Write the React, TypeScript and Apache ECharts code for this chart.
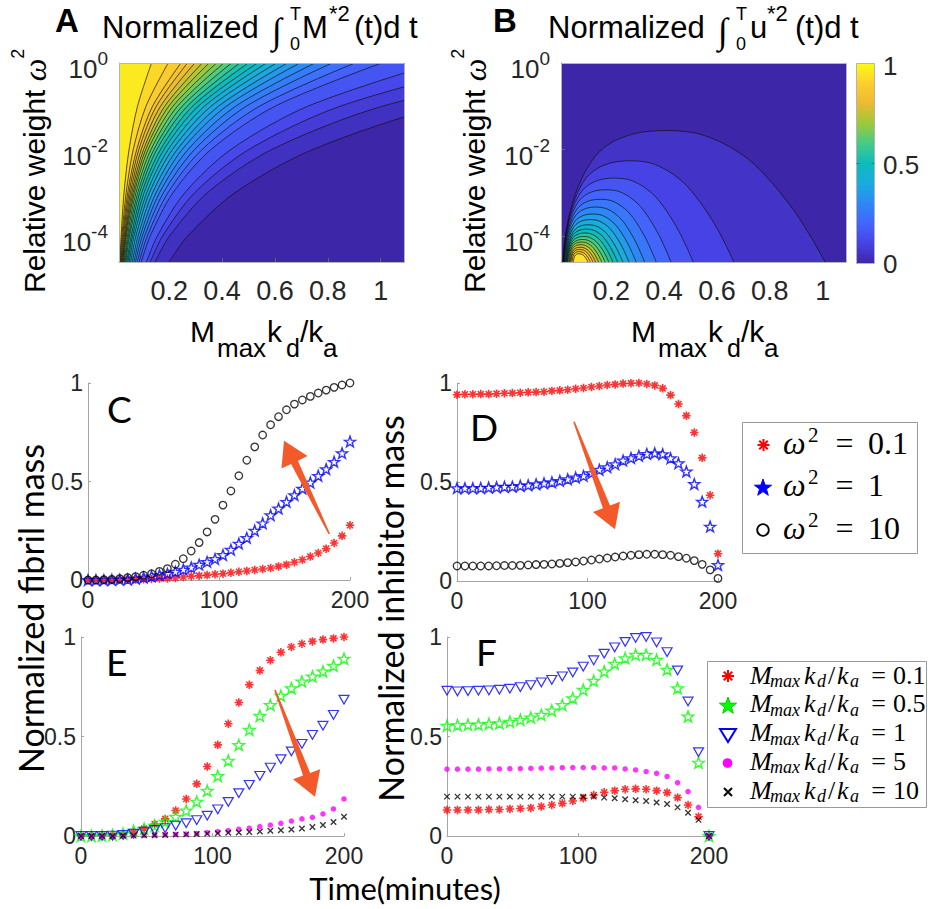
import React, { useEffect, useRef } from 'react';
import * as echarts from 'echarts';

// ---------------- Panel A: contour lines (x = Mmax kd/ka) read at rows of log10(omega^2) ----------------
const A_ROWS_LOGW = [-4.6, -4, -3, -2, -1, 0];
const A_CONTOUR_X = [
  [0.199, 0.270, 0.448, 0.743, 1.234, 2.05],
  [0.146, 0.201, 0.344, 0.588, 1.006, 1.72],
  [0.128, 0.175, 0.296, 0.501, 0.846, 1.43],
  [0.114, 0.155, 0.259, 0.433, 0.724, 1.21],
  [0.094, 0.128, 0.214, 0.358, 0.600, 1.003],
  [0.086, 0.117, 0.195, 0.324, 0.541, 0.902],
  [0.079, 0.107, 0.178, 0.296, 0.491, 0.816],
  [0.072, 0.098, 0.163, 0.271, 0.451, 0.751],
  [0.066, 0.090, 0.150, 0.249, 0.416, 0.694],
  [0.060, 0.082, 0.137, 0.230, 0.386, 0.647],
  [0.054, 0.074, 0.125, 0.212, 0.358, 0.606],
  [0.049, 0.067, 0.115, 0.196, 0.333, 0.568],
  [0.044, 0.061, 0.105, 0.180, 0.310, 0.534],
  [0.040, 0.056, 0.096, 0.167, 0.288, 0.499],
  [0.036, 0.050, 0.088, 0.153, 0.268, 0.467],
  [0.033, 0.046, 0.081, 0.142, 0.249, 0.436],
  [0.030, 0.042, 0.074, 0.131, 0.231, 0.407],
  [0.027, 0.038, 0.068, 0.120, 0.214, 0.379],
  [0.025, 0.035, 0.063, 0.111, 0.198, 0.351],
  [0.023, 0.033, 0.058, 0.103, 0.183, 0.325],
  [0.021, 0.030, 0.053, 0.094, 0.167, 0.297],
  [0.019, 0.027, 0.048, 0.085, 0.151, 0.269],
  [0.017, 0.024, 0.043, 0.077, 0.137, 0.244],
  [0.015, 0.021, 0.037, 0.064, 0.112, 0.196],
  [0.013, 0.018, 0.029, 0.048, 0.080, 0.133],
];

// ---------------- Panel B: nested arch-shaped contours ----------------
const B_ARCH_U = [0, 0.008, 0.027, 0.052, 0.09, 0.14, 0.204, 0.292, 0.393, 0.507, 0.608, 0.709, 0.797, 0.886, 0.95, 1];
const B_ARCH_V = [0, 0.176, 0.378, 0.541, 0.704, 0.84, 0.928, 0.984, 1, 0.98, 0.906, 0.779, 0.603, 0.378, 0.176, 0];
const B_ARCH_XL = [0.017, 0.018, 0.019, 0.020, 0.021, 0.022, 0.024, 0.026, 0.028, 0.030, 0.032, 0.034, 0.036, 0.039, 0.042, 0.045, 0.048, 0.052, 0.057];
const B_ARCH_XR = [1.009, 0.664, 0.510, 0.426, 0.370, 0.326, 0.294, 0.267, 0.244, 0.224, 0.206, 0.191, 0.177, 0.164, 0.152, 0.141, 0.131, 0.121, 0.112];
const B_ARCH_PEAK = [-1.56, -2.26, -2.66, -2.93, -3.15, -3.33, -3.49, -3.62, -3.74, -3.84, -3.93, -4.01, -4.08, -4.14, -4.20, -4.26, -4.31, -4.36, -4.41];

const A_X_TICKS = [0.2, 0.4, 0.6, 0.8, 1];
const A_Y_TICKS = [-4, -2, 0];
const COLORBAR_LABELS = ['1', '0.5', '0'];

// ---------------- Panels C-F: time courses ----------------
const T_CD = [0, 6.06, 12.12, 18.18, 24.24, 30.3, 36.36, 42.42, 48.48, 54.55, 60.61, 66.67, 72.73, 78.79, 84.85, 90.91, 96.97,
  103.03, 109.09, 115.15, 121.21, 127.27, 133.33, 139.39, 145.45, 151.52, 157.58, 163.64, 169.7, 175.76, 181.82, 187.88, 193.94, 200];
const T_EF = [0, 8, 16, 24, 32, 40, 48, 56, 64, 72, 80, 88, 96, 104, 112, 120, 128, 136, 144, 152, 160, 168, 176, 184, 192, 200];

const C_RED = [0, 0, 0, 0, 0.001, 0.002, 0.003, 0.004, 0.005, 0.007, 0.008, 0.01, 0.015, 0.019, 0.022, 0.025, 0.029, 0.032, 0.037,
  0.042, 0.046, 0.051, 0.056, 0.061, 0.069, 0.078, 0.09, 0.103, 0.119, 0.137, 0.159, 0.188, 0.224, 0.278];
const C_BLUE = [0, 0, 0, 0.001, 0.002, 0.003, 0.007, 0.012, 0.019, 0.025, 0.032, 0.042, 0.053, 0.064, 0.078, 0.092, 0.107, 0.127,
  0.154, 0.185, 0.214, 0.251, 0.288, 0.329, 0.363, 0.397, 0.431, 0.464, 0.495, 0.529, 0.563, 0.6, 0.644, 0.703];
const C_BLACK = [0, 0, 0.002, 0.003, 0.007, 0.012, 0.017, 0.024, 0.032, 0.044, 0.058, 0.08, 0.108, 0.147, 0.19, 0.244, 0.308, 0.38,
  0.452, 0.529, 0.608, 0.676, 0.736, 0.788, 0.829, 0.864, 0.893, 0.914, 0.932, 0.949, 0.964, 0.978, 0.99, 1.0];

const D_RED = [0.941, 0.943, 0.943, 0.944, 0.944, 0.946, 0.948, 0.949, 0.951, 0.953, 0.954, 0.956, 0.96, 0.963, 0.966, 0.971, 0.975,
  0.98, 0.985, 0.99, 0.993, 0.997, 0.999, 1.0, 0.995, 0.988, 0.973, 0.939, 0.894, 0.835, 0.75, 0.622, 0.433, 0.138];
const D_BLUE = [0.469, 0.469, 0.469, 0.47, 0.472, 0.474, 0.476, 0.477, 0.481, 0.484, 0.489, 0.494, 0.499, 0.506, 0.514, 0.523, 0.531,
  0.545, 0.562, 0.575, 0.59, 0.609, 0.621, 0.632, 0.642, 0.646, 0.641, 0.62, 0.595, 0.553, 0.49, 0.401, 0.275, 0.081];
const D_BLACK = [0.076, 0.076, 0.076, 0.076, 0.076, 0.077, 0.078, 0.078, 0.079, 0.081, 0.083, 0.084, 0.086, 0.089, 0.093, 0.096, 0.101,
  0.106, 0.111, 0.116, 0.121, 0.126, 0.13, 0.133, 0.135, 0.135, 0.133, 0.13, 0.123, 0.115, 0.103, 0.084, 0.056, 0.013];

const E_RED = [0, 0, 0.001, 0.002, 0.005, 0.017, 0.037, 0.06, 0.086, 0.128, 0.186, 0.262, 0.349, 0.458, 0.564, 0.671, 0.76, 0.832,
  0.883, 0.923, 0.95, 0.966, 0.978, 0.987, 0.993, 1.0];
const E_GREEN = [0, 0, 0.002, 0.005, 0.012, 0.027, 0.037, 0.052, 0.072, 0.097, 0.128, 0.173, 0.228, 0.302, 0.379, 0.458, 0.534, 0.604,
  0.659, 0.705, 0.743, 0.777, 0.802, 0.827, 0.856, 0.891];
const E_BLUE = [0, 0, 0, 0.002, 0.005, 0.012, 0.022, 0.03, 0.04, 0.052, 0.064, 0.08, 0.102, 0.134, 0.171, 0.215, 0.257, 0.302, 0.344,
  0.386, 0.425, 0.463, 0.508, 0.554, 0.609, 0.685];
const E_MAGENTA = [0, 0, 0, 0.001, 0.001, 0.002, 0.003, 0.004, 0.006, 0.008, 0.01, 0.013, 0.017, 0.022, 0.027, 0.034, 0.039, 0.047,
  0.055, 0.064, 0.075, 0.086, 0.094, 0.111, 0.136, 0.186];
const E_BLACK = [0, 0, 0, 0, 0.001, 0.002, 0.003, 0.004, 0.005, 0.007, 0.008, 0.01, 0.012, 0.014, 0.016, 0.018, 0.02, 0.023, 0.026,
  0.029, 0.033, 0.038, 0.045, 0.055, 0.07, 0.097];

const F_RED = [0.131, 0.131, 0.131, 0.131, 0.133, 0.133, 0.136, 0.138, 0.141, 0.148, 0.156, 0.164, 0.176, 0.19, 0.206, 0.22, 0.228,
  0.235, 0.237, 0.235, 0.228, 0.218, 0.193, 0.156, 0.097, 0];
const F_GREEN = [0.554, 0.557, 0.559, 0.56, 0.564, 0.567, 0.574, 0.584, 0.596, 0.609, 0.631, 0.658, 0.693, 0.735, 0.78, 0.827, 0.866,
  0.894, 0.911, 0.911, 0.886, 0.836, 0.743, 0.601, 0.369, 0];
const F_BLUE = [0.73, 0.727, 0.728, 0.73, 0.732, 0.735, 0.74, 0.748, 0.758, 0.772, 0.785, 0.802, 0.822, 0.851, 0.883, 0.916, 0.948,
  0.975, 0.995, 1.0, 0.973, 0.924, 0.832, 0.676, 0.421, 0];
const F_MAGENTA = [0.336, 0.336, 0.336, 0.336, 0.337, 0.337, 0.338, 0.339, 0.34, 0.341, 0.342, 0.343, 0.344, 0.344, 0.344, 0.342,
  0.342, 0.337, 0.332, 0.324, 0.315, 0.299, 0.268, 0.223, 0.144, 0];
const F_BLACK = [0.198, 0.198, 0.198, 0.198, 0.198, 0.198, 0.198, 0.198, 0.198, 0.198, 0.198, 0.198, 0.198, 0.197, 0.198, 0.193,
  0.19, 0.185, 0.18, 0.176, 0.168, 0.161, 0.144, 0.117, 0.081, 0];

const D_LEGEND_VALUES = ['0.1', '1', '10'];
const F_LEGEND_VALUES = ['0.1', '0.5', '1', '5', '10'];

// ---------------- styling ----------------
const FONT = '"Liberation Sans", Arial, Helvetica, sans-serif';
const SERIF = '"Liberation Serif", "Times New Roman", serif';
const HUM = 'Lato, "Open Sans", sans-serif';
const INK = '#262626';
const AXIS_GREY = '#a6a6a6';
const ARROW = '#F4592A';
const LOGW_MIN = -4.6;
const A_XMIN = 0.01;
const A_XMAX = 1.088;

// parula-like colormap, nodes at 0, 0.1, ..., 1
const PARULA_NODES = [[62, 38, 168], [71, 66, 230], [68, 101, 253], [45, 136, 246], [26, 172, 221], [13, 187, 188],
  [68, 203, 134], [156, 201, 58], [235, 186, 50], [252, 206, 46], [249, 251, 21]];
function parula(t: number) {
  const n = PARULA_NODES.length - 1;
  const s = Math.max(0, Math.min(1, t)) * n;
  const i = Math.min(n - 1, Math.floor(s));
  const f = s - i;
  const a = PARULA_NODES[i], b = PARULA_NODES[i + 1];
  const c = [0, 1, 2].map((j) => Math.round(a[j] + (b[j] - a[j]) * f));
  return `rgb(${c[0]},${c[1]},${c[2]})`;
}

function starPoints(cx: number, cy: number, R: number, r: number) {
  const p: number[][] = [];
  for (let i = 0; i < 10; i++) {
    const a = -Math.PI / 2 + (i * Math.PI) / 5;
    const rr = i % 2 === 0 ? R : r;
    p.push([cx + rr * Math.cos(a), cy + rr * Math.sin(a)]);
  }
  return p;
}
const STAR = 'path://' + starPoints(10, 10, 10, 4).map((p, i) => (i ? 'L' : 'M') + p[0].toFixed(2) + ' ' + p[1].toFixed(2)).join('') + 'Z';
const ASTER = 'path://M5 0L5 10M0 5L10 5M1.46 1.46L8.54 8.54M1.46 8.54L8.54 1.46';
const TRI = 'path://M0 0L10 0L5 8.66Z';
const XMK = 'path://M0 0L10 10M0 10L10 0';

type TOpt = { family?: string; italic?: boolean; bold?: boolean; color?: string; align?: string; rot?: number; lh?: number };
function T(text: string, x: number, y: number, size: number, o: TOpt = {}) {
  const style: any = {
    text, fontSize: size, fontFamily: o.family || FONT, fontStyle: o.italic ? 'italic' : 'normal',
    fontWeight: o.bold ? 'bold' : 'normal', fill: o.color || '#000', align: o.align || 'left', verticalAlign: 'middle',
  };
  if (o.lh) style.lineHeight = o.lh;
  return { type: 'text', x, y, rotation: o.rot || 0, z: 100, silent: true, style };
}

function arrow(tx: number, ty: number, hx: number, hy: number) {
  const dx = hx - tx, dy = hy - ty, L = Math.hypot(dx, dy);
  const ux = dx / L, uy = dy / L, nx = -uy, ny = ux;
  const headLen = 24, headHalf = 14.5, shaftHalf = 3.8, tailHalf = 0.8;
  const bx = hx - ux * headLen, by = hy - uy * headLen;
  const pts = [
    [tx + nx * tailHalf, ty + ny * tailHalf], [bx + nx * shaftHalf, by + ny * shaftHalf], [bx + nx * headHalf, by + ny * headHalf],
    [hx, hy], [bx - nx * headHalf, by - ny * headHalf], [bx - nx * shaftHalf, by - ny * shaftHalf], [tx - nx * tailHalf, ty - ny * tailHalf],
  ];
  return { type: 'polygon', z: 100, silent: true, shape: { points: pts }, style: { fill: ARROW } };
}

function gLine(x1: number, y1: number, x2: number, y2: number, color: string, lw: number) {
  return { type: 'line', z: 101, silent: true, shape: { x1, y1, x2, y2 }, style: { stroke: color, lineWidth: lw } };
}
function gAsterisk(cx: number, cy: number, r: number, color: string, lw: number) {
  const d = r * 0.707;
  return [gLine(cx - r, cy, cx + r, cy, color, lw), gLine(cx, cy - r, cx, cy + r, color, lw),
    gLine(cx - d, cy - d, cx + d, cy + d, color, lw), gLine(cx - d, cy + d, cx + d, cy - d, color, lw)];
}
function gStar(cx: number, cy: number, R: number, fill: string, stroke: string, lw: number) {
  return { type: 'polygon', z: 101, silent: true, shape: { points: starPoints(cx, cy, R, R * 0.4) }, style: { fill, stroke, lineWidth: lw } };
}

function buildOption() {
  const series: any[] = [];
  const graphics: any[] = [];

  // ---- Panel A fills & contour lines ----
  const nA = A_CONTOUR_X.length;
  A_CONTOUR_X.forEach((xs, k) => {
    const col = parula((k + 1) / (nA + 1));
    series.push({
      type: 'line', xAxisIndex: 0, yAxisIndex: 0, silent: true, symbol: 'none', showSymbol: false,
      data: [[-0.2, LOGW_MIN], [xs[0] + 0.0015, LOGW_MIN]],
      lineStyle: { width: 0, opacity: 0 }, areaStyle: { origin: 'end', color: col, opacity: 1 },
      emphasis: { disabled: true },
    });
    series.push({
      type: 'line', xAxisIndex: 0, yAxisIndex: 0, silent: true, symbol: 'none', showSymbol: false,
      smooth: 0.3,
      data: xs.map((x, j) => [x, A_ROWS_LOGW[j]]),
      lineStyle: { color: '#111', width: 0.7 }, areaStyle: { origin: 'end', color: col, opacity: 1 },
      emphasis: { disabled: true },
    });
  });

  // ---- Panel B arches ----
  const nB = B_ARCH_XL.length;
  B_ARCH_XL.forEach((xl, k) => {
    const xr = B_ARCH_XR[k], pk = B_ARCH_PEAK[k];
    series.push({
      type: 'line', xAxisIndex: 1, yAxisIndex: 1, silent: true, symbol: 'none', showSymbol: false,
      smooth: 0.3,
      data: B_ARCH_U.map((u, j) => [xl + u * (xr - xl), LOGW_MIN + B_ARCH_V[j] * (pk - LOGW_MIN)]),
      lineStyle: { color: '#111', width: 0.7 }, areaStyle: { origin: 'start', color: parula((k + 1) / (nB + 1)), opacity: 1 },
      emphasis: { disabled: true },
    });
  });

  // ---- Panels C-F scatter ----
  const mk = (gi: number, times: number[], vals: number[], kind: string) => {
    const base: any = {
      type: 'scatter', xAxisIndex: gi, yAxisIndex: gi, silent: true, clip: false,
      data: times.map((t, i) => [t, vals[i]]), emphasis: { disabled: true },
    };
    if (kind === 'redAst') Object.assign(base, { symbol: ASTER, symbolSize: 8.5, itemStyle: { color: '#ff0000', borderColor: '#ff0000', borderWidth: 1.6 } });
    if (kind === 'blueStar') Object.assign(base, { symbol: STAR, symbolSize: [11, 10.5], itemStyle: { color: 'rgba(0,0,0,0)', borderColor: '#0000ff', borderWidth: 1.4 } });
    if (kind === 'greenStar') Object.assign(base, { symbol: STAR, symbolSize: [11.5, 11], itemStyle: { color: 'rgba(0,0,0,0)', borderColor: '#00ff00', borderWidth: 1.4 } });
    if (kind === 'blackCirc') Object.assign(base, { symbol: 'circle', symbolSize: 7.5, itemStyle: { color: 'rgba(0,0,0,0)', borderColor: '#000', borderWidth: 1.3 } });
    if (kind === 'blueTri') Object.assign(base, { symbol: TRI, symbolSize: [10, 8.7], itemStyle: { color: 'rgba(0,0,0,0)', borderColor: '#0000ff', borderWidth: 1.2 } });
    if (kind === 'magDot') Object.assign(base, { symbol: 'circle', symbolSize: 5.5, itemStyle: { color: '#ff00ff' } });
    if (kind === 'blackX') Object.assign(base, { symbol: XMK, symbolSize: 5.5, itemStyle: { color: '#000', borderColor: '#000', borderWidth: 1.3 } });
    return base;
  };
  series.push(mk(2, T_CD, C_RED, 'redAst'), mk(2, T_CD, C_BLUE, 'blueStar'), mk(2, T_CD, C_BLACK, 'blackCirc'));
  series.push(mk(3, T_CD, D_RED, 'redAst'), mk(3, T_CD, D_BLUE, 'blueStar'), mk(3, T_CD, D_BLACK, 'blackCirc'));
  series.push(mk(4, T_EF, E_RED, 'redAst'), mk(4, T_EF, E_GREEN, 'greenStar'), mk(4, T_EF, E_BLUE, 'blueTri'), mk(4, T_EF, E_MAGENTA, 'magDot'), mk(4, T_EF, E_BLACK, 'blackX'));
  series.push(mk(5, T_EF, F_RED, 'redAst'), mk(5, T_EF, F_GREEN, 'greenStar'), mk(5, T_EF, F_BLUE, 'blueTri'), mk(5, T_EF, F_MAGENTA, 'magDot'), mk(5, T_EF, F_BLACK, 'blackX'));

  // ---- axes ----
  const contourX = (gi: number) => ({
    type: 'value', gridIndex: gi, min: A_XMIN, max: A_XMAX,
    axisLine: { show: true, onZero: false, lineStyle: { color: AXIS_GREY } },
    axisTick: { show: true, inside: true, length: 4, customValues: A_X_TICKS, lineStyle: { color: '#666' } },
    axisLabel: { customValues: A_X_TICKS, margin: 15, fontSize: 27, fontFamily: FONT, color: INK },
    splitLine: { show: false },
  });
  const contourY = (gi: number) => ({
    type: 'value', gridIndex: gi, min: LOGW_MIN, max: 0,
    axisLine: { show: true, onZero: false, lineStyle: { color: AXIS_GREY } },
    axisTick: { show: true, inside: true, length: 4, customValues: A_Y_TICKS, lineStyle: { color: '#666' } },
    axisLabel: {
      customValues: A_Y_TICKS, margin: 11, padding: [12, 0, 0, 0],
      formatter: (v: number) => `{b|10}{s|${Math.round(v)}}`,
      rich: {
        b: { fontSize: 26, fontFamily: FONT, color: INK, lineHeight: 40 },
        s: { fontSize: 19, fontFamily: FONT, color: INK, lineHeight: 20, verticalAlign: 'top' },
      },
    },
    splitLine: { show: false },
  });
  const timeX = (gi: number) => ({
    type: 'value', gridIndex: gi, min: 0, max: 200, interval: 100,
    axisLine: { show: true, onZero: false, lineStyle: { color: AXIS_GREY } },
    axisTick: { show: true, inside: true, length: 3, lineStyle: { color: AXIS_GREY } },
    axisLabel: { margin: 10, fontSize: 23, fontFamily: FONT, color: INK, lineHeight: 20 },
    splitLine: { show: false },
  });
  const massY = (gi: number) => ({
    type: 'value', gridIndex: gi, min: 0, max: 1, interval: 0.5,
    axisLine: { show: true, onZero: false, lineStyle: { color: AXIS_GREY } },
    axisTick: { show: true, inside: true, length: 3, lineStyle: { color: AXIS_GREY } },
    axisLabel: { margin: 5, fontSize: 23, fontFamily: FONT, color: INK },
    splitLine: { show: false },
  });

  // ---- graphics: titles ----
  const titleA = 102, titleB = 548;
  [[titleA, 'M'], [titleB, 'u']].forEach(([x0, sym]: any) => {
    const dx = x0 - titleA;
    graphics.push(T('Normalized', x0, 27, 31));
    graphics.push(T('\u222B', 272 + dx, 31, 36, { family: SERIF, italic: true }));
    graphics.push(T('T', 290 + dx, 13.5, 18));
    graphics.push(T('0', 290 + dx, 44, 18));
    graphics.push(T(sym, (sym === 'M' ? 302 : 304) + dx, 27, 31));
    graphics.push(T('*2', (sym === 'M' ? 329 : 321) + dx, 13.5, 22));
    graphics.push(T('(t)d t', (sym === 'M' ? 354 : 349) + dx, 27, 31));
  });
  graphics.push(T('A', 55, 20.5, 33, { bold: true }));
  graphics.push(T('B', 493, 20.5, 33, { bold: true }));

  // axis names for A and B
  [0, 441].forEach((dx) => {
    graphics.push(T('M', 190 + dx, 331, 30));
    graphics.push(T('max', 217 + dx, 348, 26));
    graphics.push(T('k', 267 + dx, 331, 30));
    graphics.push(T('d', 286 + dx, 348, 25));
    graphics.push(T('/k', 300 + dx, 331, 30));
    graphics.push(T('a', 323 + dx, 348, 26));
  });
  [0, 440].forEach((dx) => {
    graphics.push({
      type: 'text', x: 34.5 + dx, y: 293, rotation: Math.PI / 2, z: 100, silent: true,
      style: {
        text: '{a|Relative weight }{w|\u03C9}{s|2}', align: 'left', verticalAlign: 'middle', fill: '#000',
        rich: {
          a: { fontSize: 30, fontFamily: FONT, fill: '#000', lineHeight: 52 },
          w: { fontSize: 32, fontFamily: SERIF, fontStyle: 'italic', fill: '#000', lineHeight: 52 },
          s: { fontSize: 18, fontFamily: FONT, fill: '#000', lineHeight: 20, verticalAlign: 'top' },
        },
      },
    });
  });
  // plot borders A/B
  graphics.push({ type: 'rect', z: 99, silent: true, shape: { x: 119.5, y: 63.5, width: 285, height: 199 }, style: { fill: 'none', stroke: '#b4b4b4', lineWidth: 1 } });
  graphics.push({ type: 'rect', z: 99, silent: true, shape: { x: 561.5, y: 63.5, width: 285, height: 199 }, style: { fill: 'none', stroke: '#b4b4b4', lineWidth: 1 } });

  // colorbar
  const nN = PARULA_NODES.length - 1;
  const stops = PARULA_NODES.map((c, i) => ({ offset: 1 - i / nN, color: `rgb(${c[0]},${c[1]},${c[2]})` })).reverse();
  graphics.push({
    type: 'rect', z: 99, silent: true, shape: { x: 856.5, y: 63.5, width: 18, height: 200 },
    style: { fill: new echarts.graphic.LinearGradient(0, 0, 0, 1, stops), stroke: '#b4b4b4', lineWidth: 1 },
  });
  graphics.push(gLine(856.5, 163.5, 859.5, 163.5, '#666', 1), gLine(871.5, 163.5, 874.5, 163.5, '#666', 1));
  COLORBAR_LABELS.forEach((s, i) => graphics.push(T(s, 883, 66 + i * 99, 26, { color: INK })));

  // panel letters and big labels C-F
  graphics.push(T('C', 107, 408, 37, { family: HUM }));
  graphics.push(T('D', 470, 426, 37, { family: HUM }));
  graphics.push(T('E', 106, 661, 37, { family: HUM }));
  graphics.push(T('F', 476, 651, 37, { family: HUM }));
  graphics.push(T('Normalized fibril mass', 30.5, 608.5, 34, { family: HUM, rot: Math.PI / 2, align: 'center' }));
  graphics.push(T('Normalized inhibitor mass', 390.6, 608.5, 34, { family: HUM, rot: Math.PI / 2, align: 'center' }));
  graphics.push(T('Time(minutes)', 405, 888, 31, { family: HUM, align: 'center', lh: 26 }));

  // arrows
  graphics.push(arrow(329.3, 534, 284, 440.7));
  graphics.push(arrow(574, 421.7, 615, 529.3));
  graphics.push(arrow(275, 690, 315, 796.7));

  // legend D
  graphics.push({ type: 'rect', z: 100, silent: true, shape: { x: 742.5, y: 422.5, width: 175, height: 131 }, style: { fill: '#fff', stroke: '#999', lineWidth: 1 } });
  const dRows = [443, 485, 528];
  graphics.push(...gAsterisk(763.5, 445, 6, '#ff0000', 2));
  graphics.push(gStar(763, 488, 9, '#0000ff', '#0000ff', 1));
  graphics.push({ type: 'circle', z: 101, silent: true, shape: { cx: 763, cy: 530, r: 5.8 }, style: { fill: 'none', stroke: '#000', lineWidth: 1.8 } });
  dRows.forEach((y, i) => {
    graphics.push(T('\u03C9', 783, y, 32, { family: SERIF, italic: true }));
    graphics.push(T('2', 808, y - 8.5, 21, { family: SERIF }));
    graphics.push(T('=', 844.5, y, 32, { family: SERIF, align: 'center' }));
    graphics.push(T(D_LEGEND_VALUES[i], 868, y, 32, { family: SERIF }));
  });

  // legend F
  graphics.push({ type: 'rect', z: 100, silent: true, shape: { x: 707.5, y: 661.5, width: 219, height: 146 }, style: { fill: '#fff', stroke: '#999', lineWidth: 1 } });
  const fRows = [675, 703.7, 732.5, 761, 790];
  graphics.push(...gAsterisk(728, 676, 6, '#ff0000', 2));
  graphics.push(gStar(728, 706, 9, '#00ff00', '#00cc00', 1));
  graphics.push({ type: 'polygon', z: 101, silent: true, shape: { points: [[720, 729], [736, 729], [728, 742]] }, style: { fill: 'none', stroke: '#0000ff', lineWidth: 2 } });
  graphics.push({ type: 'circle', z: 101, silent: true, shape: { cx: 727.5, cy: 763, r: 4.8 }, style: { fill: '#ff00ff' } });
  graphics.push(gLine(724, 788, 732, 796, '#000', 2), gLine(724, 796, 732, 788, '#000', 2));
  fRows.forEach((y, i) => {
    graphics.push(T('M', 750, y, 26, { family: SERIF, italic: true }));
    graphics.push(T('max', 770, y + 6, 18, { family: SERIF, italic: true }));
    graphics.push(T('k', 804, y, 26, { family: SERIF, italic: true }));
    graphics.push(T('d', 817, y + 6, 18, { family: SERIF, italic: true }));
    graphics.push(T('/', 828, y, 26, { family: SERIF }));
    graphics.push(T('k', 837, y, 26, { family: SERIF, italic: true }));
    graphics.push(T('a', 850, y + 6, 18, { family: SERIF, italic: true }));
    graphics.push(T('=', 878.5, y, 26, { family: SERIF, align: 'center' }));
    graphics.push(T(F_LEGEND_VALUES[i], 893, y, 26, { family: SERIF }));
  });

  return {
    animation: false,
    backgroundColor: '#fff',
    textStyle: { fontFamily: FONT },
    grid: [
      { left: 119, top: 63, width: 285, height: 199, show: true, backgroundColor: parula(0), borderWidth: 0 },
      { left: 561, top: 63, width: 285, height: 199, show: true, backgroundColor: parula(0), borderWidth: 0 },
      { left: 88, top: 383, width: 262, height: 197 },
      { left: 457, top: 383, width: 261, height: 198 },
      { left: 81, top: 637, width: 263, height: 199 },
      { left: 447, top: 637, width: 262, height: 199 },
    ],
    xAxis: [contourX(0), contourX(1), timeX(2), timeX(3), timeX(4), timeX(5)],
    yAxis: [contourY(0), contourY(1), massY(2), massY(3), massY(4), massY(5)],
    series,
    graphic: { elements: graphics },
  };
}

export default function App() {
  const ref = useRef<HTMLDivElement>(null);
  useEffect(() => {
    if (!ref.current) return;
    const chart = echarts.init(ref.current, undefined, { renderer: 'svg', width: 928, height: 909 });
    chart.setOption(buildOption() as any);
    return () => chart.dispose();
  }, []);
  return <div ref={ref} style={{ position: 'fixed', left: 0, top: 0, width: 928, height: 909, background: '#fff' }} />;
}
